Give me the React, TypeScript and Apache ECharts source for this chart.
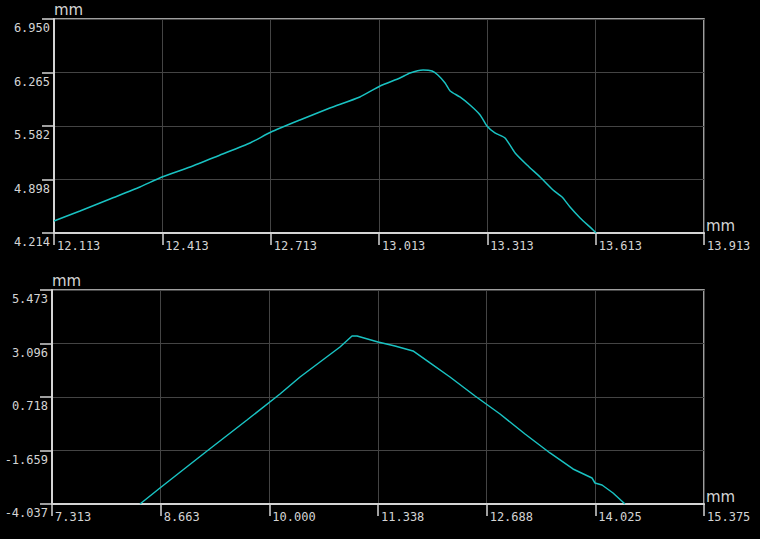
import React, { useEffect, useRef } from "react";
import * as echarts from "echarts";

// ---- data ----
const topX = [12.113, 12.185, 12.268, 12.351, 12.412, 12.49, 12.573, 12.656, 12.714, 12.794, 12.877, 12.96, 13.016, 13.071, 13.099, 13.135, 13.16, 13.176, 13.196, 13.21, 13.237, 13.265, 13.293, 13.312, 13.334, 13.362, 13.39, 13.423, 13.459, 13.495, 13.52, 13.542, 13.57, 13.606, 13.614];
const topY = [4.367, 4.495, 4.649, 4.802, 4.93, 5.058, 5.211, 5.365, 5.505, 5.659, 5.812, 5.953, 6.093, 6.196, 6.26, 6.298, 6.285, 6.234, 6.132, 6.03, 5.953, 5.85, 5.723, 5.582, 5.493, 5.429, 5.237, 5.083, 4.93, 4.764, 4.674, 4.546, 4.406, 4.252, 4.214];

const bottomX = [8.401, 8.648, 9.23, 9.724, 10.132, 10.38, 10.627, 10.874, 11.023, 11.085, 11.344, 11.554, 11.777, 11.987, 12.234, 12.544, 12.853, 13.162, 13.471, 13.755, 13.99, 14.027, 14.114, 14.25, 14.398];
const bottomY = [-4.037, -3.326, -1.681, -0.304, 0.852, 1.607, 2.274, 2.941, 3.43, 3.43, 3.163, 2.985, 2.763, 2.23, 1.607, 0.763, -0.037, -0.926, -1.77, -2.481, -2.881, -3.104, -3.193, -3.548, -4.037];

const topXLabels = ["12.113", "12.413", "12.713", "13.013", "13.313", "13.613", "13.913"];
const topYLabels = ["4.214", "4.898", "5.582", "6.265", "6.950"];
const bottomXLabels = ["7.313", "8.663", "10.000", "11.338", "12.688", "14.025", "15.375"];
const bottomYLabels = ["-4.037", "-1.659", "0.718", "3.096", "5.473"];

const LIGHT = "#d4d4d4";
const GRIDC = "#444444";
const LINEC = "#19c2c2";
const MONO = "DejaVu Sans Mono";

function xAxisCfg(gridIndex: number, min: number, max: number, interval: number, labels: string[]) {
  return {
    type: "value",
    gridIndex,
    min,
    max,
    interval,
    name: "mm",
    nameLocation: "end",
    nameGap: 2,
    nameTextStyle: { color: LIGHT, fontFamily: "DejaVu Sans", fontSize: 15, align: "left", verticalAlign: "bottom", padding: [0, 0, 0, 0] },
    axisLine: { show: true, onZero: false, lineStyle: { color: LIGHT, width: 2 } },
    axisTick: { show: true, inside: false, length: 12, lineStyle: { color: LIGHT, width: 1.5 } },
    splitLine: { show: true, lineStyle: { color: GRIDC, width: 1 } },
    axisLabel: {
      show: true,
      margin: 7,
      align: "left",
      verticalAlign: "top",
      padding: [0, 0, 0, 3],
      color: LIGHT,
      fontFamily: MONO,
      fontSize: 12,
      showMinLabel: true,
      showMaxLabel: true,
      hideOverlap: false,
      formatter: (_v: number, i: number) => (i < labels.length ? labels[i] : ""),
    },
  };
}

function yAxisCfg(gridIndex: number, min: number, max: number, interval: number, labels: string[]) {
  return {
    type: "value",
    gridIndex,
    min,
    max,
    interval,
    name: "mm",
    nameLocation: "end",
    nameGap: 2,
    nameTextStyle: { color: LIGHT, fontFamily: "DejaVu Sans", fontSize: 15, align: "left", verticalAlign: "bottom" },
    axisLine: { show: true, onZero: false, lineStyle: { color: LIGHT, width: 2 } },
    axisTick: { show: true, inside: false, length: 12, lineStyle: { color: LIGHT, width: 1.5 } },
    splitLine: { show: true, lineStyle: { color: GRIDC, width: 1 } },
    axisLabel: {
      show: true,
      margin: 4,
      align: "right",
      verticalAlign: "top",
      padding: [3, 0, 0, 0],
      color: LIGHT,
      fontFamily: MONO,
      fontSize: 12,
      showMinLabel: true,
      showMaxLabel: true,
      hideOverlap: false,
      formatter: (_v: number, i: number) => (i < labels.length ? labels[i] : ""),
    },
  };
}

export default function App() {
  const ref = useRef<HTMLDivElement>(null);
  useEffect(() => {
    if (!ref.current) return;
    const chart = echarts.init(ref.current, undefined, { renderer: "svg" });
    const topData = topX.map((x, i) => [x, topY[i]]);
    const bottomData = bottomX.map((x, i) => [x, bottomY[i]]);
    chart.setOption({
      animation: false,
      backgroundColor: "#000000",
      grid: [
        { left: 54, top: 19, width: 650, height: 214, show: true, borderColor: LIGHT, borderWidth: 1.5, backgroundColor: "transparent" },
        { left: 52, top: 290, width: 652, height: 214, show: true, borderColor: LIGHT, borderWidth: 1.5, backgroundColor: "transparent" },
      ],
      xAxis: [
        xAxisCfg(0, 12.113, 13.913, 0.3, topXLabels),
        xAxisCfg(1, 7.313, 15.375, 1.34366667, bottomXLabels),
      ],
      yAxis: [
        yAxisCfg(0, 4.214, 6.95, 0.684, topYLabels),
        yAxisCfg(1, -4.037, 5.473, 2.3775, bottomYLabels),
      ],
      series: [
        {
          type: "line",
          xAxisIndex: 0,
          yAxisIndex: 0,
          data: topData,
          showSymbol: false,
          smooth: 0.2,
          lineStyle: { color: LINEC, width: 1.5 },
          silent: true,
        },
        {
          type: "line",
          xAxisIndex: 1,
          yAxisIndex: 1,
          data: bottomData,
          showSymbol: false,
          lineStyle: { color: LINEC, width: 1.5 },
          silent: true,
        },
      ],
    });
    return () => chart.dispose();
  }, []);
  return (
    <div
      ref={ref}
      style={{ position: "fixed", left: 0, top: 0, width: 760, height: 539, background: "#000" }}
    />
  );
}
